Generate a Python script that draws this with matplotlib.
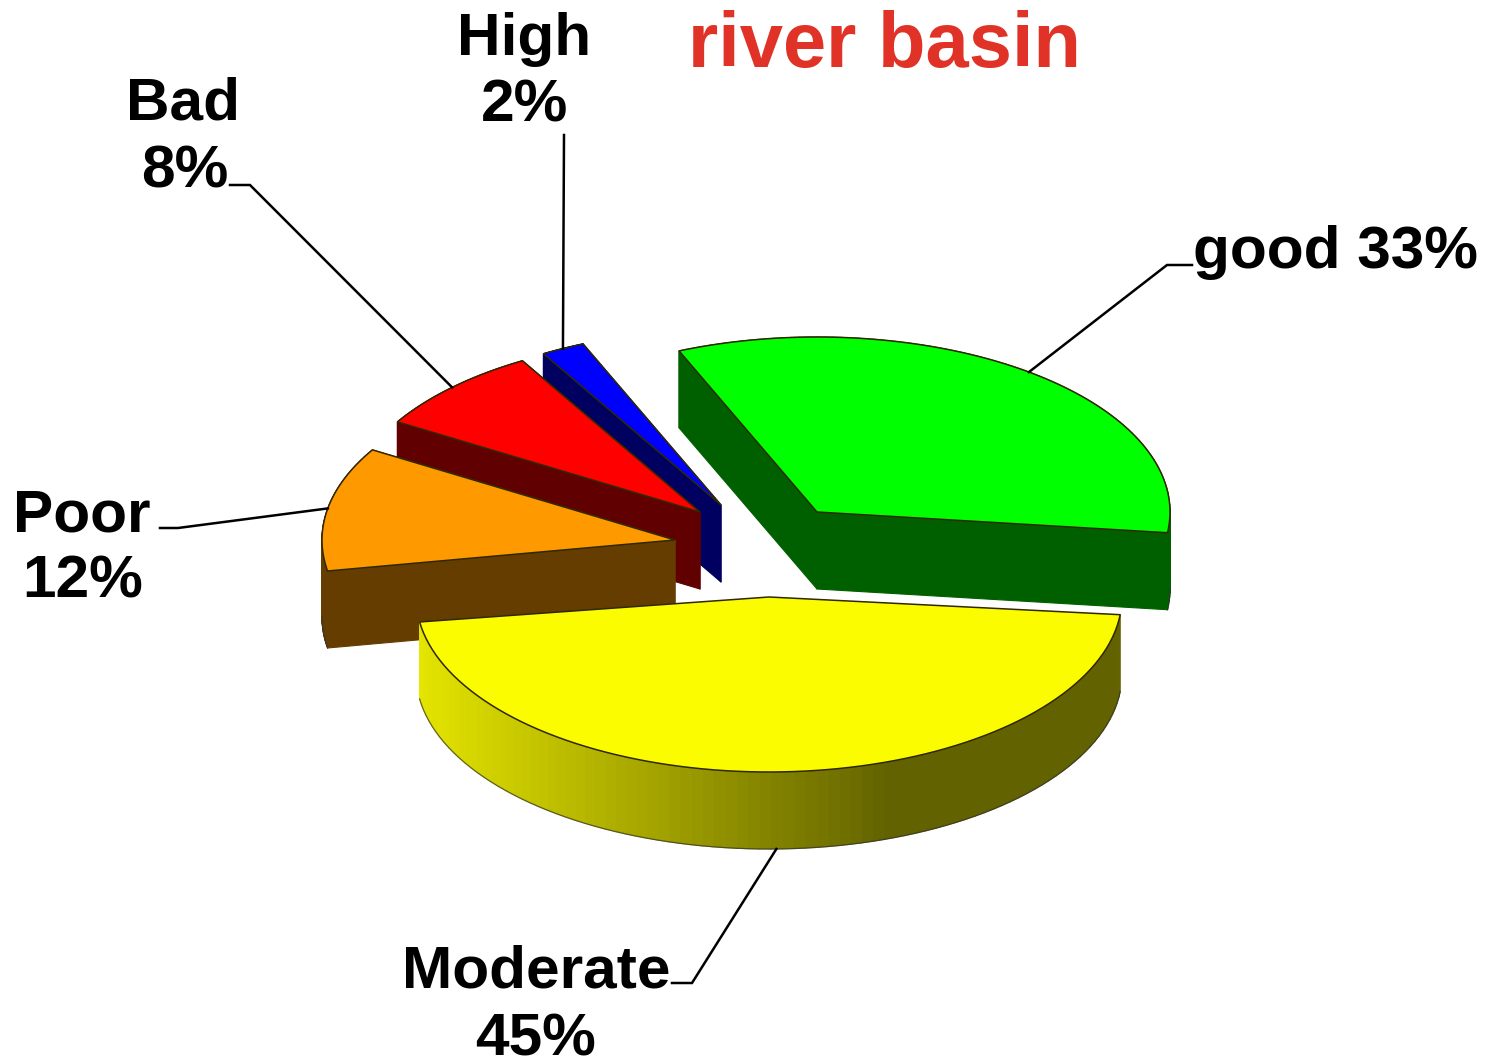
import numpy as np
import matplotlib
matplotlib.use('Agg')
import matplotlib.pyplot as plt
from matplotlib.collections import PolyCollection
from matplotlib.colors import to_rgb

# values
categories = ['good', 'Moderate', 'Poor', 'Bad', 'High']
percents = [33, 45, 12, 8, 2]

# styles and layout (pixels on the reference)
top_colors = ['#00ff00', '#fcfc00', '#ff9900', '#ff0000', '#0000ff']
side_colors = ['#006000', None, '#663d00', '#600000', '#000060']
apex_x = [817, 769, 675, 700, 721]
apex_y = [512, 597, 540, 512, 505]
start_shift = [0, 0, 2, 0, 0]
end_shift = [1, 4, 0, 0, 0]
elbows = [(1167, 265), (692, 983), (178, 528), (250, 185), (564, 135)]
leader_ends = [(1192, 265), (672, 983), (160, 528), (230, 185), (564, 135)]
draw_order = [0, 4, 3, 2, 1]

A = 353
B = 175
THICK = 77
START = -23
FONT = 'Liberation Sans'

plt.rcParams['font.family'] = FONT
fig = plt.figure(figsize=(14.87, 10.59), dpi=100)
ax = fig.add_axes([0, 0, 1, 1])
ax.set_xlim(0, 1487)
ax.set_ylim(1059, 0)
ax.axis('off')


def rim(i, deg):
    # angle clockwise from 12 o'clock, squashed circle
    t = np.radians(deg)
    return apex_x[i] + A * np.sin(t), apex_y[i] - B * np.cos(t)


edges = START + 3.6 * np.concatenate([[0], np.cumsum(percents)])
starts = edges[:-1] + start_shift
ends = edges[1:] + end_shift


def blend(frac):
    # shading of the yellow rim, light on the left and dark on the right
    left = np.array(to_rgb('#e6e600'))
    right = np.array(to_rgb('#626200'))
    return tuple(left + (right - left) * min(frac / 0.68, 1))


for i in draw_order:
    z = 1 + draw_order.index(i) * 0.1
    degs = np.linspace(starts[i], ends[i], 90)
    xs, ys = rim(i, degs)
    px = np.concatenate([[apex_x[i]], xs])
    py = np.concatenate([[apex_y[i]], ys])

    # sweep each outline segment downwards, the top hides what faces away
    # the yellow slice only shows its rim, so its cut faces are left out
    quads = []
    cols = []
    segs = range(len(px)) if side_colors[i] is not None else range(1, len(px) - 1)
    for j in segs:
        k = (j + 1) % len(px)
        quads.append([(px[j], py[j]), (px[k], py[k]),
                      (px[k], py[k] + THICK), (px[j], py[j] + THICK)])
        if side_colors[i] is None:
            frac = np.clip((px[j] - (apex_x[i] - A)) / (2 * A), 0, 1)
            cols.append(blend(frac))
        else:
            cols.append(side_colors[i])
    ax.add_collection(PolyCollection(quads, facecolors=cols, edgecolors=cols, linewidths=0.8, zorder=z))

    # dark edge under the part of the rim that faces the viewer, then the top
    front = np.cos(np.radians(degs)) < 0
    ax.plot(xs[front], ys[front] + THICK, color='#303030', lw=0.9, alpha=0.7, zorder=z + 0.01)
    ax.fill(px, py, facecolor=top_colors[i], edgecolor='#302800', lw=1.1, joinstyle='miter', zorder=z + 0.02)

# leader lines run from the middle of each slice rim to the label
for i in range(len(categories)):
    mid = (starts[i] + ends[i]) / 2
    x0, y0 = rim(i, mid)
    if categories[i] == 'Moderate':
        y0 += THICK
    ax.plot([x0, elbows[i][0], leader_ends[i][0]], [y0, elbows[i][1], leader_ends[i][1]],
            color='black', lw=1.8, solid_joinstyle='miter', zorder=5)

# labels
LABEL_SIZE = 43.5
ax.text(1193, 268, f'{categories[0]} {percents[0]}%', fontsize=LABEL_SIZE, fontweight='bold', ha='left', va='baseline')
ax.text(536, 988, categories[1], fontsize=LABEL_SIZE, fontweight='bold', ha='center', va='baseline')
ax.text(536, 1055, f'{percents[1]}%', fontsize=LABEL_SIZE, fontweight='bold', ha='center', va='baseline')
ax.text(82, 531, categories[2], fontsize=LABEL_SIZE, fontweight='bold', ha='center', va='baseline')
ax.text(83, 598, f'{percents[2]}%', fontsize=LABEL_SIZE, fontweight='bold', ha='center', va='baseline')
ax.text(183, 120, categories[3], fontsize=LABEL_SIZE, fontweight='bold', ha='center', va='baseline')
ax.text(185, 187, f'{percents[3]}%', fontsize=LABEL_SIZE, fontweight='bold', ha='center', va='baseline')
ax.text(524, 55, categories[4], fontsize=LABEL_SIZE, fontweight='bold', ha='center', va='baseline')
ax.text(525, 122, f'{percents[4]}%', fontsize=LABEL_SIZE, fontweight='bold', ha='center', va='baseline')

ax.text(688, 67, 'river basin', fontsize=56, fontweight='bold', color='#e03226', ha='left', va='baseline')

fig.savefig('out.png', dpi=100)
